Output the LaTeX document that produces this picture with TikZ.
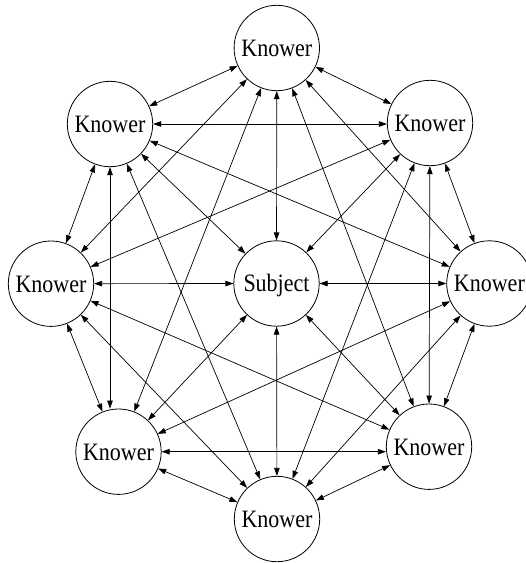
\documentclass[tikz,border=0pt]{standalone}
\usepackage{fontspec}
\setmainfont{Liberation Serif}[FakeStretch=0.88]
\usetikzlibrary{arrows.meta}
\begin{document}
\begin{tikzpicture}[x=1pt,y=-1pt,
  agent/.style={circle,draw,line width=0.8pt,minimum size=85.4pt,inner sep=0pt,
    font=\fontsize{25}{30}\selectfont,text height=16.6pt,text depth=0pt},
  link/.style={line width=0.7pt,{Triangle[length=8pt,width=5.5pt]}-{Triangle[length=8pt,width=5.5pt]}}]
\useasboundingbox (0,0) rectangle (526,563);
\node[agent] (T)  at (276.8,48)    {Knower};
\node[agent] (UR) at (430,123)     {Knower};
\node[agent] (R)  at (489.4,283.5) {Knower};
\node[agent] (LR) at (429,446.7)   {Knower};
\node[agent] (B)  at (277,519)     {Knower};
\node[agent] (LL) at (118.5,451.7) {Knower};
\node[agent] (L)  at (51,283.7)    {Knower};
\node[agent] (UL) at (110,124)     {Knower};
\node[agent] (S)  at (276.5,283.5) {Subject};
\foreach \a/\b in {T/UR,T/R,T/LR,T/LL,T/L,T/UL,
                   UR/R,UR/LR,UR/B,UR/L,
                   R/LR,R/B,R/LL,R/UL,
                   LR/B,LR/L,
                   B/LL,B/L,B/UL,
                   LL/L,
                   L/UL}
  \draw[link] (\a) -- (\b);
\draw[link] (UL) -- (UL |- LL.north);
\draw[link] (LL) -- (LL -| LR.west);
\draw[link] (UL) -- (UL -| UR.west);
\foreach \a in {T,UR,R,LR,B,LL,L,UL}
  \draw[link] (\a) -- (S);
\end{tikzpicture}
\end{document}
